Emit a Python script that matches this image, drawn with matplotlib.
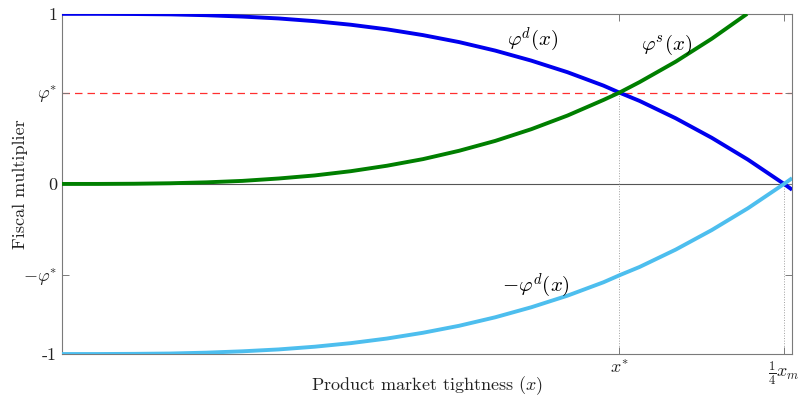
import numpy as np
import matplotlib
matplotlib.use("Agg")
import matplotlib.pyplot as plt

plt.rcParams["font.family"] = "serif"
plt.rcParams["font.serif"] = ["cmr10", "DejaVu Serif"]
plt.rcParams["mathtext.fontset"] = "cm"
plt.rcParams["axes.unicode_minus"] = False

# Product market tightness grid (the tick at 0.25 is x_m / 4)
x = [0.0, 0.0125, 0.025, 0.0375, 0.05, 0.0625, 0.075, 0.0875, 0.1, 0.1125,
     0.125, 0.1375, 0.15, 0.1625, 0.175, 0.1875, 0.193, 0.2, 0.2125, 0.225,
     0.2375, 0.25, 0.2528]
# demand-side multiplier phi^d(x)
phi_d = [1.0, 1.0, 0.999, 0.997, 0.992, 0.984, 0.973, 0.957, 0.936, 0.909,
         0.875, 0.834, 0.784, 0.725, 0.657, 0.578, 0.537, 0.488, 0.386, 0.271,
         0.143, 0.0, -0.034]

# supply-side multiplier phi^s(x)
x_s = [0.0, 0.0125, 0.025, 0.0375, 0.05, 0.0625, 0.075, 0.0875, 0.1, 0.1125,
       0.125, 0.1375, 0.15, 0.1625, 0.175, 0.1875, 0.193, 0.2, 0.2125, 0.225,
       0.2372]
phi_s = [0.0, 0.0001, 0.0012, 0.004, 0.0094, 0.018, 0.032, 0.050, 0.075, 0.107,
         0.146, 0.195, 0.253, 0.322, 0.402, 0.494, 0.537, 0.599, 0.719, 0.854,
         1.0]

phi_star = 0.537
x_star = 0.193
x_quarter = 0.25

ytick_vals = [1, phi_star, 0, -phi_star, -1]
ytick_labels = ["1", r"$\varphi^{*}$", "0", r"$-\varphi^{*}$", "-1"]
xtick_vals = [x_star, x_quarter]
xtick_labels = [r"$x^{*}$", r"$\frac{1}{4}x_m$"]

fig = plt.figure(figsize=(8.05, 3.96), dpi=100)
ax = fig.add_axes([0.077, 0.106, 0.907, 0.859])

spine_col = "#7a7a7a"
ax.axhline(0, color="#555555", lw=0.8, zorder=1)
ax.axhline(phi_star, color="#ff3030", lw=0.9, dashes=(6, 4), zorder=1)
ax.plot([x_star, x_star], [-1, phi_star], color="#a0a0a0", lw=0.7, ls=":", zorder=1)
ax.plot([x_quarter, x_quarter], [-1, 0], color="#a0a0a0", lw=0.7, ls=":", zorder=1)

ax.plot(x, phi_d, color="#0000ee", lw=2.8, zorder=3, solid_capstyle="butt")
ax.plot(x_s, phi_s, color="#007f00", lw=2.8, zorder=3, solid_capstyle="butt")
ax.plot(x, [-v for v in phi_d], color="#4dbeee", lw=2.8, zorder=3, solid_capstyle="butt")

ax.text(0.163, 0.845, r"$\varphi^{d}(x)$", fontsize=15, ha="center", va="center")
ax.text(0.2093, 0.82, r"$\varphi^{s}(x)$", fontsize=15, ha="center", va="center")
ax.text(0.164, -0.60, r"$-\varphi^{d}(x)$", fontsize=15, ha="center", va="center")

ax.set_xlim(0, 0.2528)
ax.set_ylim(-1, 1)
ax.set_yticks(ytick_vals)
ax.set_yticklabels(ytick_labels)
ax.set_xticks(xtick_vals)
ax.set_xticklabels(xtick_labels)
ax.tick_params(direction="in", length=5, width=0.7, colors=spine_col,
               labelcolor="#222222", labelsize=13, top=True, right=True)
for s in ax.spines.values():
    s.set_color(spine_col)
    s.set_linewidth(0.8)

ax.set_xlabel(r"Product market tightness ($x$)", fontsize=13, color="#222222", va="center")
ax.xaxis.set_label_coords(0.5, -0.092)
ax.set_ylabel("Fiscal multiplier", fontsize=13, color="#222222", va="center")
ax.yaxis.set_label_coords(-0.057, 0.5)

fig.savefig("out.png", dpi=100)
